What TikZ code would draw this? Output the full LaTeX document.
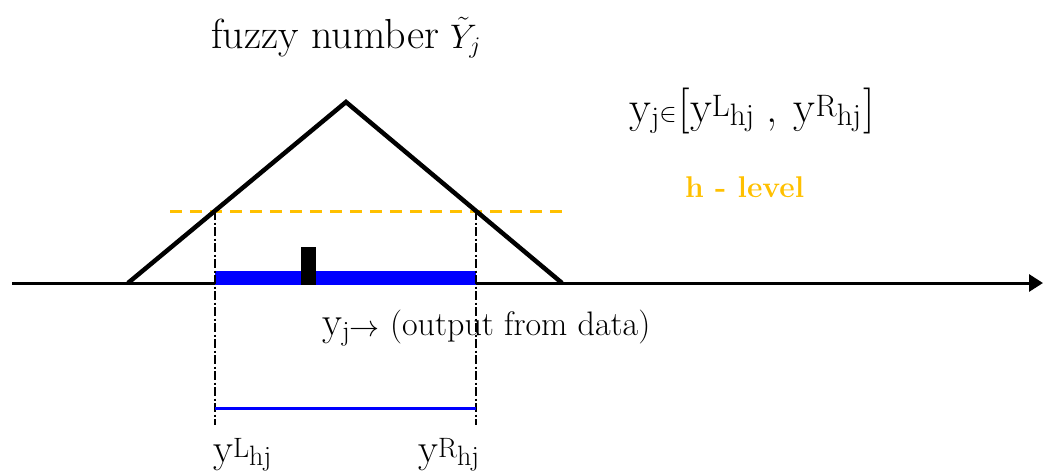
\RequirePackage{fix-cm}
\documentclass[tikz,border=0pt]{standalone}
\usetikzlibrary{arrows.meta}
\definecolor{hgold}{HTML}{FFC000}
\definecolor{pblue}{HTML}{0000FF}
\newcommand\fsz[2]{{\fontsize{#1}{#1}\selectfont #2}}
\newcommand\ysc[1]{\fsz{41}{y}\raisebox{5pt}{\fsz{28}{#1}}\raisebox{-3pt}{\fsz{28}{hj}}}
\newcommand\yscb[1]{\fsz{45}{y}\raisebox{6pt}{\fsz{31}{#1}}\raisebox{-3pt}{\fsz{31}{hj}}}
\begin{document}
\begin{tikzpicture}[x=1pt,y=-1pt,
  lbl/.style={inner sep=0pt, anchor=base west, font=\fontsize{41}{41}\selectfont},
  tri/.style={line width=4.5pt, line join=miter, line cap=butt},
  guide/.style={line width=2.2pt, dash pattern=on 9pt off 2.5pt on 2pt off 2.5pt},
  hlevel/.style={hgold, line width=3pt, dash pattern=on 12pt off 8pt},
  axis/.style={line width=3pt, -{Triangle[length=14pt,width=17pt]}}]
\useasboundingbox (0,0) rectangle (1045,475);
% coordinates
\coordinate (ax0) at (12,283);
\coordinate (ax1) at (1043,283);
\coordinate (tl) at (128,283);
\coordinate (apex) at (346,102);
\coordinate (tr) at (562,283);
\coordinate (hl) at (215,211);
\coordinate (hr) at (476,211);
\coordinate (hs) at (170,211);
\coordinate (he) at (566,211);
\coordinate (bl) at (215,425);
\coordinate (br) at (476,425);
\coordinate (il) at (215,408);
\coordinate (ir) at (476,408);
% axis
\draw[axis] (ax0) -- (ax1);
% intervals
\fill[pblue] (215,271) rectangle (476,284.5);
\fill[black] (301,247) rectangle (316,284.5);
\draw[guide] (hl) -- (bl);
\draw[guide] (hr) -- (br);
\draw[pblue, line width=3pt] (il) -- (ir);
% h-level
\draw[hlevel] (hs) -- (he);
% triangle
\draw[tri] (tl) -- (apex) -- (tr);
% labels
\node[lbl, font=\fontsize{42}{42}\selectfont] (fz) at (211,48) {fuzzy number\hspace{11pt}\fsz{34}{$\tilde{Y}_{j}$}};
\node[lbl] (iv) at (629,122) {\fsz{45}{y}\raisebox{-5pt}{\fsz{30}{j}}\raisebox{1pt}{\fsz{26}{$\in$}}\hspace{2pt}\fsz{46}{[}\yscb{L}\hspace{12pt}\fsz{45}{,}\hspace{4pt} \yscb{R}\hspace{2pt}\fsz{46}{]}};
\node[lbl, font=\fontsize{30}{30}\bfseries\selectfont, text=hgold] (hv) at (685,197) {h - level};
\node[lbl] (od) at (322,335) {y\raisebox{-5pt}{\fsz{28}{j}}\raisebox{-1pt}{\fsz{30}{$\rightarrow$}}\fsz{34}{ (output from data)}};
\node[lbl] (yl) at (213,462) {\ysc{L}};
\node[lbl] (yr) at (418,462) {\ysc{R}};
\end{tikzpicture}
\end{document}
